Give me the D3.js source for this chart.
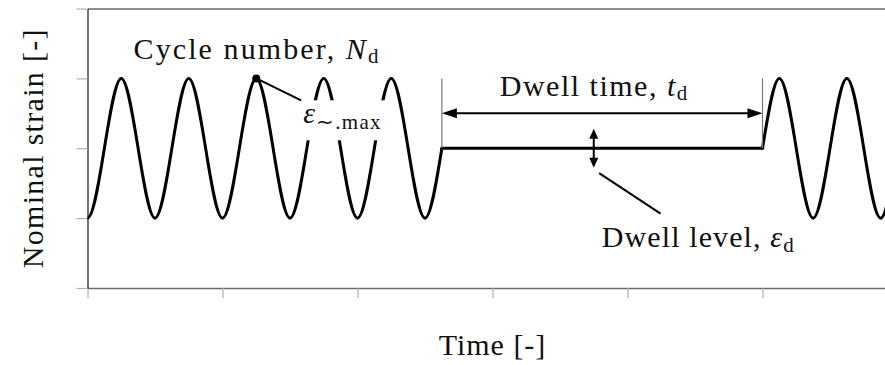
<!DOCTYPE html>
<html>
<head>
<meta charset="utf-8">
<script src="https://cdn.jsdelivr.net/npm/d3@7"></script>
<style>
  html, body { margin: 0; padding: 0; background: #fff; }
  svg { display: block; }
</style>
</head>
<body>
<svg id="chart" width="885" height="365"></svg>
<script>
// Axis ticks (unlabelled schematic axes)
const xTicks = [0, 1, 2, 3, 4, 5, 6];
const yTicks = [-2, -1, 0, 1, 2];

// Strain history: turning points of the cyclic loading before the dwell
const cycleTime   = [-0.25, 0, 0.25, 0.5, 0.75, 1, 1.25, 1.5, 1.75, 2, 2.25, 2.5, 2.625];
const cycleStrain = [1, -1, 1, -1, 1, -1, 1, -1, 1, -1, 1, -1, 0];

// Hold at the dwell level
const dwellTime   = [2.625, 5];
const dwellStrain = [0, 0];

// Cycling resumes after the dwell
const resumeTime   = [5, 5.125, 5.375, 5.625, 5.875, 6.125, 6.375];
const resumeStrain = [0, 1, -1, 1, -1, 1, -1];

// Annotated quantities
const peakMark = { t: 1.25, strain: 1 };          // cycle whose peak is marked
const dwellArrowLevel = 0.5;                        // height of the dwell-time arrow
const dwellLevelSpan = [-0.28, 0.28];               // vertical double arrow
const dwellArrowTime = 3.75;

const FONT = "Liberation Serif";

const svg = d3.select("#chart");
const W = 885, H = 365;

const x = d3.scaleLinear().domain([0, 6.4]).range([87.5, 87.5 + 6.4 * 135]);
const y = d3.scaleLinear().domain([-2, 2]).range([288, 8.5]);

svg.append("rect").attr("width", W).attr("height", H).attr("fill", "#fff");

const defs = svg.append("defs");
defs.append("clipPath").attr("id", "plotClip")
  .append("rect")
  .attr("x", x(0)).attr("y", 0)
  .attr("width", W - x(0) + 20).attr("height", H);

// ---- axes ----
const gx = svg.append("g").attr("transform", `translate(0,${y(-2)})`)
  .call(d3.axisBottom(x).tickValues(xTicks).tickFormat("").tickSize(10).tickSizeOuter(0));
gx.select(".domain").attr("stroke", "#6a6a6a").attr("stroke-width", 1.6);
gx.selectAll(".tick line").attr("stroke", "#b0b0b0").attr("stroke-width", 1.2);

const gTop = svg.append("g").attr("transform", `translate(0,${y(2)})`)
  .call(d3.axisTop(x).tickValues([]).tickSizeOuter(0));
gTop.select(".domain").attr("stroke", "#6a6a6a").attr("stroke-width", 1.6);

const gy = svg.append("g").attr("transform", `translate(${x(0)},0)`)
  .call(d3.axisLeft(y).tickValues(yTicks).tickFormat("").tickSize(11).tickSizeOuter(0));
gy.select(".domain").attr("stroke", "#000").attr("stroke-width", 1.1);
gy.selectAll(".tick line").attr("stroke", "#b0b0b0").attr("stroke-width", 1.2);

// ---- strain trace ----
const line = d3.line()
  .x(d => x(d[0]))
  .y(d => y(d[1]))
  .curve(d3.curveMonotoneX);

const traces = [
  d3.zip(cycleTime, cycleStrain),
  d3.zip(dwellTime, dwellStrain),
  d3.zip(resumeTime, resumeStrain)
];

const traceG = svg.append("g").attr("clip-path", "url(#plotClip)");
traceG.selectAll("path.trace")
  .data(traces)
  .join("path")
  .attr("class", "trace")
  .attr("d", line)
  .attr("fill", "none")
  .attr("stroke", "#000")
  .attr("stroke-width", 3)
  .attr("stroke-linecap", "round")
  .attr("stroke-linejoin", "round");

// ---- helpers ----
function arrowHead(g, tipX, tipY, angle, len, half) {
  g.append("path")
    .attr("d", `M0,0 L${-len},${-half} L${-len},${half} Z`)
    .attr("transform", `translate(${tipX},${tipY}) rotate(${angle})`)
    .attr("fill", "#000");
}

function mathLabel(g, px, py, parts, anchor, spacing) {
  const t = g.append("text")
    .attr("x", px).attr("y", py)
    .attr("font-family", FONT)
    .attr("font-size", 30)
    .attr("fill", "#111")
    .attr("letter-spacing", (spacing == null ? 1 : spacing) + "px")
    .attr("text-anchor", anchor || "start");
  parts.forEach(p => {
    const ts = t.append("tspan").text(p.text);
    if (p.italic) ts.attr("font-style", "italic");
    if (p.sub) ts.attr("font-size", 21).attr("dy", p.dy).attr("letter-spacing", (p.subSpacing || 0.5) + "px");
  });
  return t;
}

const ann = svg.append("g");

// ---- cycle number / maximum strain ----
mathLabel(ann, x(peakMark.t), 59.3, [
  { text: "Cycle number, " },
  { text: "N", italic: true },
  { text: "d", sub: true, dy: 4 }
], "middle", 2.1);

const epsAnchor = { t: 1.59, strain: 0.357 };
ann.append("rect")
  .attr("x", x(epsAnchor.t) - 1.5)
  .attr("y", y(epsAnchor.strain) - 23)
  .attr("width", 88)
  .attr("height", 40)
  .attr("fill", "#fff");

ann.append("line")
  .attr("x1", x(peakMark.t)).attr("y1", y(peakMark.strain))
  .attr("x2", x(epsAnchor.t) - 1).attr("y2", y(epsAnchor.strain) - 23)
  .attr("stroke", "#000").attr("stroke-width", 2);

ann.append("circle")
  .attr("cx", x(peakMark.t)).attr("cy", y(peakMark.strain))
  .attr("r", 4).attr("fill", "#000");

mathLabel(ann, x(epsAnchor.t) + 1, y(epsAnchor.strain), [
  { text: "ε", italic: true },
  { text: "∼.max", sub: true, dy: 6, subSpacing: 1.3 }
], "start", 1);

// ---- dwell time ----
[dwellTime[0], dwellTime[1]].forEach(t => {
  ann.append("line")
    .attr("x1", x(t)).attr("x2", x(t))
    .attr("y1", y(1)).attr("y2", y(0))
    .attr("stroke", "#777").attr("stroke-width", 1.2);
});
ann.append("line")
  .attr("x1", x(dwellTime[0]) + 8).attr("x2", x(dwellTime[1]) - 8)
  .attr("y1", y(dwellArrowLevel)).attr("y2", y(dwellArrowLevel))
  .attr("stroke", "#000").attr("stroke-width", 2);
arrowHead(ann, x(dwellTime[0]), y(dwellArrowLevel), 180, 15, 5);
arrowHead(ann, x(dwellTime[1]), y(dwellArrowLevel), 0, 15, 5);

mathLabel(ann, x(dwellArrowTime), 96, [
  { text: "Dwell time, " },
  { text: "t", italic: true },
  { text: "d", sub: true, dy: 4 }
], "middle", 1.5);

// ---- dwell level ----
ann.append("line")
  .attr("x1", x(dwellArrowTime)).attr("x2", x(dwellArrowTime))
  .attr("y1", y(dwellLevelSpan[1]) + 6).attr("y2", y(dwellLevelSpan[0]) - 6)
  .attr("stroke", "#000").attr("stroke-width", 2);
arrowHead(ann, x(dwellArrowTime), y(dwellLevelSpan[1]), -90, 10, 4.5);
arrowHead(ann, x(dwellArrowTime), y(dwellLevelSpan[0]), 90, 10, 4.5);

ann.append("line")
  .attr("x1", x(3.79)).attr("y1", y(-0.355))
  .attr("x2", x(4.245)).attr("y2", y(-0.935))
  .attr("stroke", "#000").attr("stroke-width", 2);

mathLabel(ann, x(3.81), 247, [
  { text: "Dwell level, " },
  { text: "ε", italic: true },
  { text: "d", sub: true, dy: 5 }
], "start", 1.1);

// ---- axis titles ----
svg.append("text")
  .attr("x", x(3)).attr("y", 355)
  .attr("text-anchor", "middle")
  .attr("font-family", FONT)
  .attr("font-size", 30)
  .attr("fill", "#111")
  .attr("letter-spacing", "1px")
  .text("Time [-]");

svg.append("text")
  .attr("transform", `translate(43,${y(0)}) rotate(-90)`)
  .attr("text-anchor", "middle")
  .attr("font-family", FONT)
  .attr("font-size", 30)
  .attr("fill", "#111")
  .attr("letter-spacing", "1.3px")
  .text("Nominal strain [-]");
</script>
</body>
</html>
